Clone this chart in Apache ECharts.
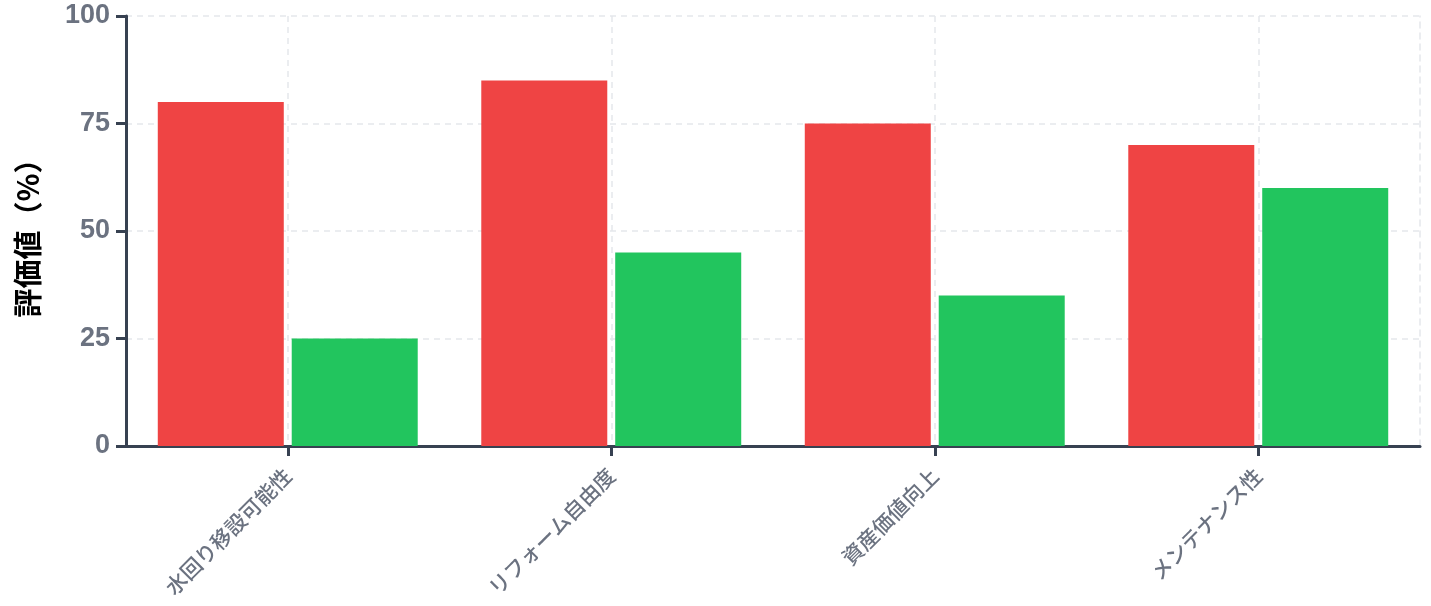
<!DOCTYPE html>
<html>
<head>
<meta charset="utf-8">
<script src="https://cdn.jsdelivr.net/npm/echarts@6/dist/echarts.min.js"></script>
<style>
html,body{margin:0;padding:0;background:#fff;}
#chart{width:1431px;height:606px;}
</style>
</head>
<body>
<div id="chart"></div>
<script>
const categories = ['水回り移設可能性', 'リフォーム自由度', '資産価値向上', 'メンテナンス性'];
const seriesA = [80, 85, 75, 70];
const seriesB = [25, 45, 35, 60];
const yTicks = [0, 25, 50, 75, 100];
const yAxisTitle = '評価値（%）';

const chart = echarts.init(document.getElementById('chart'));
const axisColor = '#374151';
const labelColor = '#6b7280';
const gridColor = '#e5e7eb';

chart.setOption({
  animation: false,
  grid: { left: 126, right: 11, top: 16, bottom: 160, containLabel: false },
  xAxis: {
    type: 'category',
    data: categories,
    axisLine: { show: true, lineStyle: { color: axisColor, width: 3 } },
    axisTick: { show: true, alignWithLabel: true, length: 10, lineStyle: { color: axisColor, width: 3 } },
    axisLabel: {
      rotate: 45, margin: 26, color: labelColor, fontSize: 21, fontWeight: 500,
      fontFamily: '"Noto Sans CJK JP", "Liberation Sans", sans-serif'
    },
    splitLine: { show: true, alignWithLabel: true, lineStyle: { color: gridColor, width: 1.5, type: [6, 5] } }
  },
  yAxis: [{
    type: 'value',
    min: yTicks[0],
    max: yTicks[yTicks.length - 1],
    interval: 25,
    name: yAxisTitle,
    nameLocation: 'middle',
    nameGap: 84,
    nameRotate: 90,
    nameTextStyle: {
      color: '#000', fontSize: 29, fontWeight: 'bold',
      fontFamily: '"Noto Sans CJK JP", sans-serif'
    },
    axisLine: { show: true, lineStyle: { color: axisColor, width: 3 } },
    axisTick: { show: true, length: 10, lineStyle: { color: axisColor, width: 3 } },
    axisLabel: {
      margin: 16, color: labelColor, fontSize: 27, fontWeight: 'bold',
      fontFamily: '"Liberation Sans", Arial, sans-serif'
    },
    splitLine: { show: true, lineStyle: { color: gridColor, width: 1.5, type: [6, 5] } }
  }, {
    type: 'value',
    position: 'right',
    min: yTicks[0],
    max: yTicks[yTicks.length - 1],
    interval: 25,
    axisLine: { show: true, lineStyle: { color: gridColor, width: 1.5, type: [6, 5] } },
    axisTick: { show: false },
    axisLabel: { show: false },
    splitLine: { show: false }
  }],
  series: [{
    name: 'A',
    type: 'bar',
    data: seriesA,
    barWidth: 126,
    barGap: '6.3%',
    itemStyle: { color: '#ef4444' }
  }, {
    name: 'B',
    type: 'bar',
    data: seriesB,
    barWidth: 126,
    itemStyle: { color: '#22c55e' }
  }]
});
</script>
</body>
</html>
